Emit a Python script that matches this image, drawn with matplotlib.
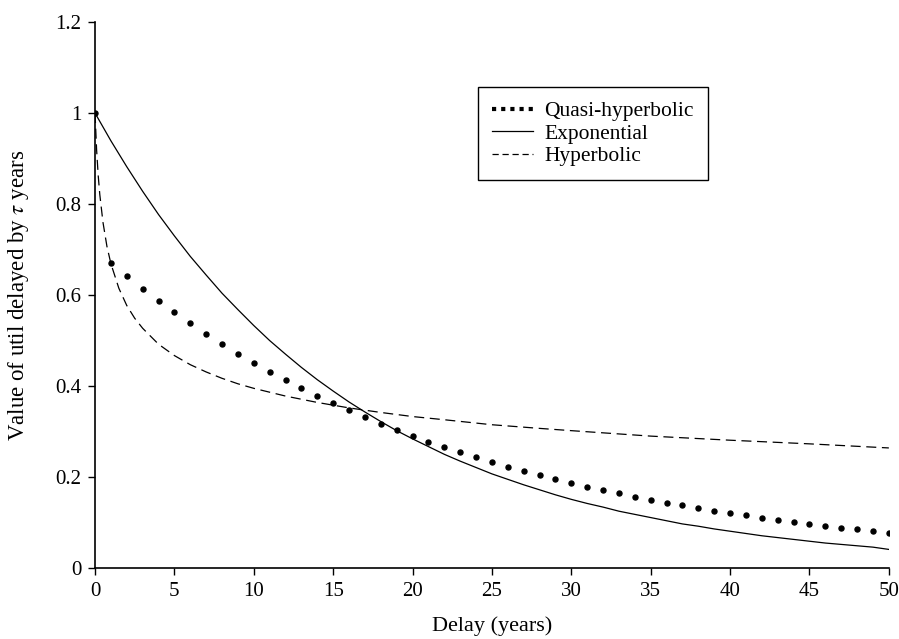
import matplotlib
matplotlib.use("Agg")
import matplotlib.pyplot as plt
from matplotlib.lines import Line2D

plt.rcParams['font.family'] = ['Liberation Serif', 'DejaVu Serif']
plt.rcParams['mathtext.fontset'] = 'stix'

# values
years = list(range(0, 51))
exponential = [1.0, 0.939, 0.882, 0.828, 0.777, 0.730, 0.685, 0.644, 0.604, 0.568,
               0.533, 0.500, 0.470, 0.441, 0.414, 0.389, 0.365, 0.343, 0.322, 0.302,
               0.284, 0.267, 0.250, 0.235, 0.221, 0.207, 0.195, 0.183, 0.172, 0.161,
               0.151, 0.142, 0.134, 0.125, 0.118, 0.111, 0.104, 0.097, 0.092, 0.086,
               0.081, 0.076, 0.071, 0.067, 0.063, 0.059, 0.055, 0.052, 0.049, 0.046,
               0.041]
quasi = [1.0, 0.670, 0.641, 0.614, 0.587, 0.562, 0.538, 0.515, 0.493, 0.471,
         0.451, 0.432, 0.413, 0.395, 0.378, 0.362, 0.347, 0.332, 0.317, 0.304,
         0.291, 0.278, 0.266, 0.255, 0.244, 0.233, 0.223, 0.214, 0.205, 0.196,
         0.187, 0.179, 0.172, 0.164, 0.157, 0.150, 0.144, 0.138, 0.132, 0.126,
         0.121, 0.116, 0.111, 0.106, 0.101, 0.097, 0.093, 0.089, 0.085, 0.081,
         0.076]
hyp_years = [0, 0.1, 0.2, 0.3, 0.5, 0.75, 1, 1.5, 2, 2.5, 3, 4, 5, 6, 7, 8, 9, 10,
             12, 14, 16, 18, 20, 22, 25, 28, 30, 35, 40, 45, 50]
hyperbolic = [1.0, 0.919, 0.863, 0.821, 0.760, 0.707, 0.669, 0.615, 0.577, 0.549,
              0.527, 0.492, 0.467, 0.447, 0.431, 0.417, 0.405, 0.395,
              0.378, 0.364, 0.352, 0.342, 0.333, 0.326, 0.315, 0.307, 0.302,
              0.290, 0.281, 0.273, 0.264]

xticks = list(range(0, 51, 5))
yticks = [0, 0.2, 0.4, 0.6, 0.8, 1.0, 1.2]
ytick_labels = ['0', '0.2', '0.4', '0.6', '0.8', '1', '1.2']

fig = plt.figure(figsize=(8.99, 6.39), dpi=100)
ax = fig.add_axes([0.1057, 0.111, 0.883, 0.8545])

ax.plot(years, quasi, linestyle='none', marker='o', markersize=3.6,
        color='black', label='Quasi-hyperbolic')
ax.plot(years, exponential, color='black', linewidth=0.9, label='Exponential')
ax.plot(hyp_years, hyperbolic, color='black', linewidth=0.9,
        dashes=(8, 4.5), label='Hyperbolic')

ax.set_xlim(0, 50)
ax.set_ylim(0, 1.2)
ax.set_xticks(xticks)
ax.set_yticks(yticks)
ax.set_yticklabels(ytick_labels)
ax.spines['top'].set_visible(False)
ax.spines['right'].set_visible(False)
ax.spines['left'].set_linewidth(1.2)
ax.spines['bottom'].set_linewidth(1.2)
ax.tick_params(direction='out', length=5, width=1, labelsize=15, pad=5)

ax.set_xlabel('Delay (years)', fontsize=16, labelpad=11)
ax.set_ylabel(r'Value of util delayed by $\tau$ years', fontsize=16.5, labelpad=17)

# legend: dotted sample for quasi-hyperbolic
handles = [Line2D([], [], color='black', linestyle=(0, (1, 1.2)), linewidth=3),
           Line2D([], [], color='black', linewidth=0.9),
           Line2D([], [], color='black', linewidth=0.9, dashes=(5, 3))]
leg = ax.legend(handles, ['Quasi-hyperbolic', 'Exponential', 'Hyperbolic'],
                loc='upper left', bbox_to_anchor=(0.482, 0.881),
                fontsize=15.5, fancybox=False, framealpha=1, edgecolor='black',
                handlelength=1.9, handletextpad=0.55, borderpad=0.65,
                labelspacing=0.12, borderaxespad=0)
leg.get_frame().set_linewidth(1.0)

fig.savefig('out.png', dpi=100)
